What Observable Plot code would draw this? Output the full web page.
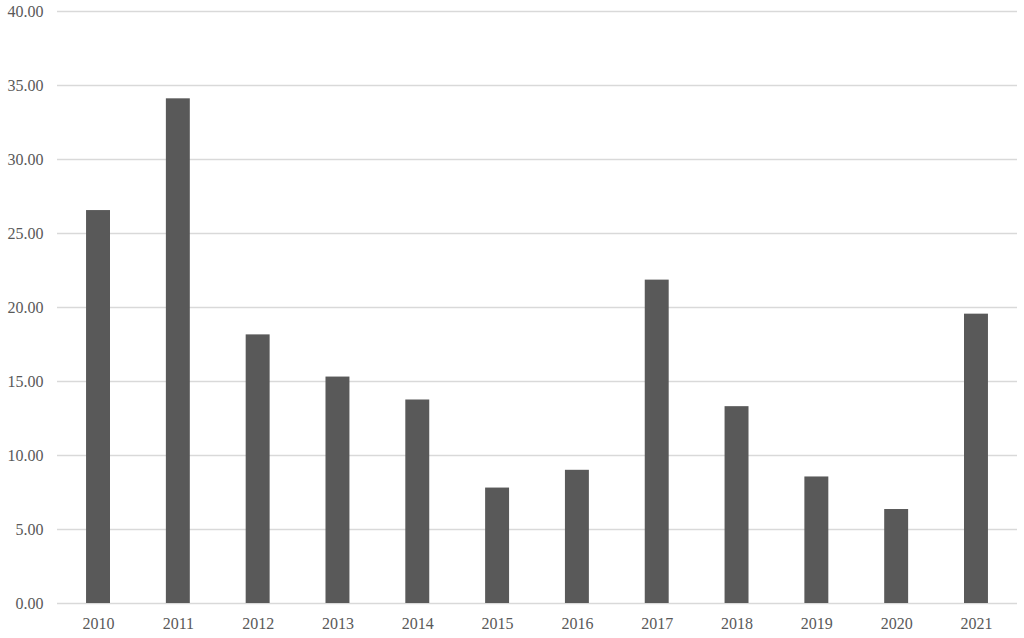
<!DOCTYPE html>
<html><head><meta charset="utf-8">
<script src="https://cdn.jsdelivr.net/npm/d3@7"></script>
<script src="https://cdn.jsdelivr.net/npm/@observablehq/plot@0.6"></script>
<style>
body{margin:0;background:#fff;}
svg{font-family:"Liberation Serif","Times New Roman",serif;}
</style></head>
<body><div id="chart"></div>
<script>
const years = ["2010","2011","2012","2013","2014","2015","2016","2017","2018","2019","2020","2021"];
const values = [26.55, 34.1, 18.15, 15.3, 13.75, 7.8, 9.0, 21.85, 13.3, 8.55, 6.35, 19.55];
const yTicks = [0,5,10,15,20,25,30,35,40];

const data = years.map((y,i)=>({year:y, value:values[i]}));

const chart = Plot.plot({
  width: 1024,
  height: 638,
  marginLeft: 57,
  marginRight: 7,
  marginTop: 11,
  marginBottom: 35,
  style: {fontFamily: '"Liberation Serif","Times New Roman",serif', fontSize: "16px", color: "#595959", background: "#fff"},
  x: {domain: years, paddingInner: 0.7, paddingOuter: 0.364, round: false, label: null},
  y: {domain: [0,40], label: null},
  marks: [
    Plot.ruleY(yTicks, {stroke: "#d9d9d9", strokeWidth: 1.5}),
    Plot.barY(data, {x: "year", y: "value", fill: "#595959"}),
    Plot.axisX({tickSize: 0, tickPadding: 14, fontSize: 16, fill: "#595959"}),
    Plot.axisY({ticks: yTicks, tickSize: 0, tickPadding: 14, tickFormat: d => d.toFixed(2), fontSize: 16, fill: "#595959"})
  ]
});
document.getElementById("chart").appendChild(chart);
</script></body></html>
